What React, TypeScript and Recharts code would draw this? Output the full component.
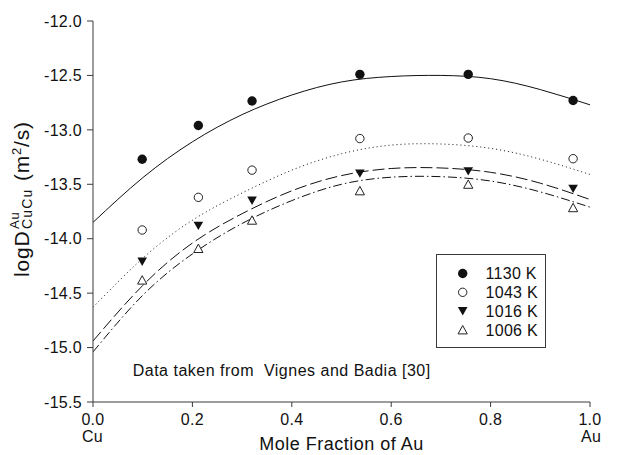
import { ComposedChart, Line, Scatter, XAxis, YAxis, Legend, Customized } from 'recharts'

// fitted curves on a 0.1 grid
const xFit = [0, 0.1, 0.2, 0.3, 0.4, 0.5, 0.6, 0.7, 0.8, 0.9, 1.0]
const fit1130 = [-13.85, -13.44, -13.11, -12.86, -12.68, -12.56, -12.51, -12.5, -12.53, -12.63, -12.77]
const fit1043 = [-14.63, -14.18, -13.83, -13.58, -13.37, -13.22, -13.14, -13.13, -13.17, -13.27, -13.41]
const fit1016 = [-14.94, -14.43, -14.04, -13.77, -13.56, -13.42, -13.355, -13.35, -13.39, -13.49, -13.64]
const fit1006 = [-15.04, -14.52, -14.14, -13.86, -13.65, -13.5, -13.435, -13.43, -13.47, -13.57, -13.71]

// measured points
const xObs = [0.099, 0.212, 0.32, 0.537, 0.755, 0.966]
const obs1130 = [-13.27, -12.96, -12.735, -12.49, -12.49, -12.73]
const obs1043 = [-13.92, -13.62, -13.37, -13.08, -13.075, -13.265]
const obs1016 = [-14.21, -13.88, -13.65, -13.4, -13.38, -13.54]
const obs1006 = [-14.38, -14.09, -13.83, -13.56, -13.5, -13.715]

const xTicks = [0, 0.2, 0.4, 0.6, 0.8, 1.0]
const yTicks = [-15.5, -15, -14.5, -14, -13.5, -13, -12.5, -12]

const FONT = '"Liberation Sans", Arial, Helvetica, sans-serif'
const AXIS = '#3a3a3a'

type Kind = 'disc' | 'ring' | 'down' | 'up'

const series: { name: string; kind: Kind; dash?: string; fit: number[]; obs: number[] }[] = [
  { name: '1130 K', kind: 'disc', fit: fit1130, obs: obs1130 },
  { name: '1043 K', kind: 'ring', dash: '1 3', fit: fit1043, obs: obs1043 },
  { name: '1016 K', kind: 'down', dash: '12 4', fit: fit1016, obs: obs1016 },
  { name: '1006 K', kind: 'up', dash: '9 3 1.5 3', fit: fit1006, obs: obs1006 },
]

const pts = (xs: number[], ys: number[]) => xs.map((x, i) => ({ x, y: ys[i] }))

function Marker({ cx, cy, kind }: { cx: number; cy: number; kind: Kind }) {
  if (cx == null || cy == null) return null
  if (kind === 'disc') return <circle cx={cx} cy={cy} r={4.7} fill="#111" />
  if (kind === 'ring') return <circle cx={cx} cy={cy} r={4.2} fill="#fff" stroke="#222" strokeWidth={1} />
  if (kind === 'down')
    return <path d={`M${cx - 4.8},${cy - 4} L${cx + 4.8},${cy - 4} L${cx},${cy + 4.4} Z`} fill="#111" />
  return <path d={`M${cx - 4.6},${cy + 4} L${cx + 4.6},${cy + 4} L${cx},${cy - 4.4} Z`} fill="#fff" stroke="#222" strokeWidth={1} />
}

function LegendBox() {
  return (
    <svg width={110} height={94} style={{ display: 'block' }}>
      <rect x={0.5} y={0.5} width={109} height={93} fill="#fff" stroke={AXIS} strokeWidth={1} />
      {series.map((s, i) => {
        const cy = 19.5 + i * 18.8
        return (
          <g key={s.name}>
            <Marker cx={26.7} cy={cy} kind={s.kind} />
            <text x={49.5} y={cy + 5.6} fontSize={16} fontFamily={FONT} letterSpacing={0.3} fill="#111">{s.name}</text>
          </g>
        )
      })}
    </svg>
  )
}

function Annotations() {
  return (
    <g fontFamily={FONT} fill="#111">
      <text x={132.7} y={376} fontSize={16} letterSpacing={0.5} style={{ whiteSpace: 'pre' }}>
        {'Data taken from  Vignes and Badia [30]'}
      </text>
      <text x={92.5} y={442} fontSize={16} letterSpacing={0.3} textAnchor="middle">Cu</text>
      <text x={591} y={442} fontSize={16} letterSpacing={0.3} textAnchor="middle">Au</text>
      <text x={341.5} y={450} fontSize={18} letterSpacing={0.5} textAnchor="middle">Mole Fraction of Au</text>
      <g transform="translate(29,277) rotate(-90)">
        <text x={0} y={0} fontSize={21} letterSpacing={0.8}>logD</text>
        <text x={48} y={-10} fontSize={13} letterSpacing={0.8}>Au</text>
        <text x={48} y={3} fontSize={14} letterSpacing={1.2}>CuCu</text>
        <text x={96} y={0} fontSize={21} letterSpacing={0.8}>
          (m<tspan fontSize={13} dy={-8}>2</tspan><tspan dy={8}>/s)</tspan>
        </text>
      </g>
    </g>
  )
}

export default function App() {
  return (
    <div style={{ position: 'absolute', left: 0, top: 0, background: '#fff' }}>
      <ComposedChart width={636} height={455} margin={{ top: 21, right: 46, bottom: 0, left: 0 }}>
        <XAxis
          xAxisId={0}
          dataKey="x"
          type="number"
          domain={[0, 1]}
          ticks={xTicks}
          tickFormatter={v => v.toFixed(1)}
          height={53}
          tickSize={5}
          tickMargin={7}
          stroke={AXIS}
          tick={{ fontSize: 16, fontFamily: FONT, fill: '#111', letterSpacing: 0.3 }}
          allowDataOverflow
        />
        <XAxis xAxisId="top" orientation="top" type="number" domain={[0, 1]} height={0} tick={false} tickLine={false} stroke={AXIS} />
        <YAxis
          yAxisId={0}
          dataKey="y"
          type="number"
          domain={[-15.5, -12]}
          ticks={yTicks}
          tickFormatter={v => v.toFixed(1)}
          width={93}
          tickSize={6}
          tickMargin={5}
          stroke={AXIS}
          tick={{ fontSize: 16, fontFamily: FONT, fill: '#111', letterSpacing: 0.3 }}
          allowDataOverflow
        />
        <YAxis yAxisId="right" orientation="right" type="number" domain={[0, 1]} width={0} tick={false} tickLine={false} stroke={AXIS} />
        {series.map(s => (
          <Line
            key={'fit' + s.name}
            data={pts(xFit, s.fit)}
            dataKey="y"
            type="natural"
            stroke="#111"
            strokeWidth={1}
            strokeDasharray={s.dash}
            dot={false}
            activeDot={false}
            legendType="none"
            isAnimationActive={false}
          />
        ))}
        {series.map(s => (
          <Scatter
            key={'obs' + s.name}
            name={s.name}
            data={pts(xObs, s.obs)}
            dataKey="y"
            shape={(p: any) => <Marker cx={p.cx} cy={p.cy} kind={s.kind} />}
            isAnimationActive={false}
          />
        ))}
        <Legend
          layout="vertical"
          align="center"
          verticalAlign="middle"
          content={() => <LegendBox />}
          wrapperStyle={{ position: 'absolute', left: 436, top: 254, width: 110, height: 94 }}
        />
        <Customized component={Annotations} />
      </ComposedChart>
    </div>
  )
}
